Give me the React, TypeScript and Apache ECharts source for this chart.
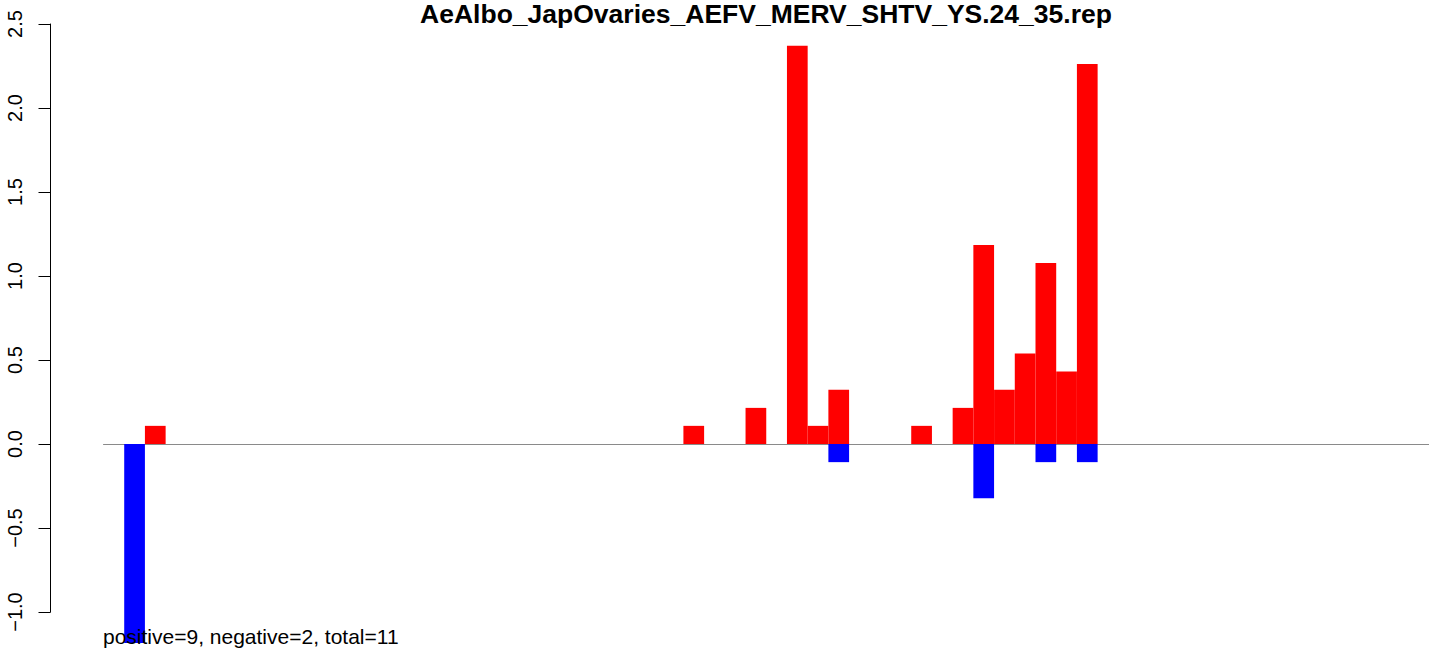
import React, { useEffect, useRef } from "react";
import * as echarts from "echarts";

const TITLE = "AeAlbo_JapOvaries_AEFV_MERV_SHTV_YS.24_35.rep";
const FOOTNOTE = "positive=9, negative=2, total=11";

// number of bar slots on the x axis
const SLOT_COUNT = 64;
const slots: string[] = Array.from({ length: SLOT_COUNT }, (_, i) => String(i));

// positive (red) bars: slot index and value
const redSlots = [2, 28, 31, 33, 34, 35, 39, 41, 42, 43, 44, 45, 46, 47];
const redValues = [0.108, 0.108, 0.215, 2.37, 0.108, 0.323, 0.108, 0.215, 1.184, 0.323, 0.538, 1.077, 0.431, 2.262];

// negative (blue) bars: slot index and value
const blueSlots = [1, 35, 42, 45, 47];
const blueValues = [-1.184, -0.108, -0.323, -0.108, -0.108];

const yTicks = { min: -1.0, max: 2.5, interval: 0.5 };

function buildSeriesData(idx: number[], vals: number[]): (number | null)[] {
  const out: (number | null)[] = slots.map(() => null);
  idx.forEach((s, k) => {
    out[s] = vals[k];
  });
  return out;
}

const FONT = "'Liberation Sans', Arial, Helvetica, sans-serif";

export default function App() {
  const ref = useRef<HTMLDivElement>(null);
  useEffect(() => {
    if (!ref.current) return;
    const chart = echarts.init(ref.current, undefined, { renderer: "svg" });
    chart.setOption({
      animation: false,
      backgroundColor: "#ffffff",
      grid: { left: 103.5, top: 24, width: 1329, height: 588 },
      xAxis: {
        type: "category",
        data: slots,
        boundaryGap: true,
        axisLine: { show: true, onZero: true, lineStyle: { color: "#8a8a8a", width: 1 } },
        axisTick: { show: false },
        axisLabel: { show: false },
        splitLine: { show: false },
      },
      yAxis: {
        type: "value",
        min: yTicks.min,
        max: yTicks.max,
        interval: yTicks.interval,
        offset: 53,
        axisLine: { show: true, lineStyle: { color: "#000", width: 1 } },
        axisTick: { show: true, inside: false, length: 12, lineStyle: { color: "#000", width: 1 } },
        axisLabel: {
          show: true,
          rotate: 90,
          margin: 26,
          fontSize: 20,
          fontFamily: FONT,
          color: "#000",
          formatter: (v: number) => v.toFixed(1).replace("-", "\u2212"),
        },
        splitLine: { show: false },
      },
      series: [
        {
          type: "bar",
          name: "positive",
          data: buildSeriesData(redSlots, redValues),
          itemStyle: { color: "#ff0000" },
          barGap: "-100%",
          barCategoryGap: "0%",
          clip: false,
        },
        {
          type: "bar",
          name: "negative",
          data: buildSeriesData(blueSlots, blueValues),
          itemStyle: { color: "#0000ff" },
          barGap: "-100%",
          barCategoryGap: "0%",
          clip: false,
        },
      ],
      graphic: [
        {
          type: "text",
          x: 766,
          y: 13.5,
          z: 100,
          style: {
            text: TITLE,
            fontFamily: FONT,
            fontWeight: "bold",
            fontSize: 26.5,
            fill: "#000",
            align: "center",
            verticalAlign: "middle",
          },
        },
        {
          type: "text",
          x: 103,
          y: 636,
          z: 100,
          style: {
            text: FOOTNOTE,
            fontFamily: FONT,
            fontSize: 21,
            fill: "#000",
            align: "left",
            verticalAlign: "middle",
          },
        },
      ],
    });
    return () => chart.dispose();
  }, []);
  return (
    <div
      ref={ref}
      style={{ position: "fixed", left: 0, top: 0, width: 1429, height: 649, background: "#fff" }}
    />
  );
}
